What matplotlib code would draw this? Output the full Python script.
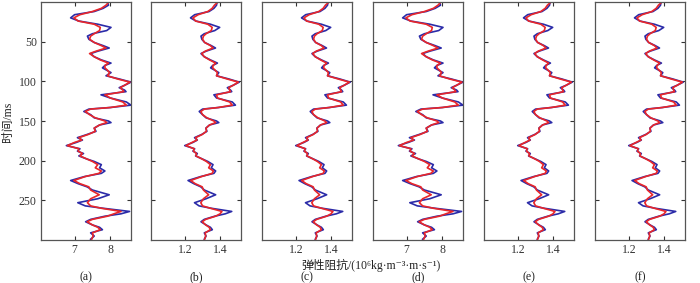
import numpy as np
import matplotlib.pyplot as plt

plt.rcParams['font.family'] = ['Liberation Serif', 'Noto Sans CJK SC', 'DejaVu Serif']
plt.rcParams['axes.unicode_minus'] = False

# time samples (ms)
t = [0, 4, 8, 12, 16, 20, 24, 28, 32, 36, 40, 43, 47, 51, 55, 58, 62, 65, 69, 73,
     77, 80, 83, 86, 89, 93, 97, 101, 105, 108, 111, 113, 117, 121, 126, 130, 133, 135, 138, 142,
     146, 150, 152, 155, 159, 163, 167, 171, 174, 177, 181, 185, 188, 191, 194, 198, 201, 205, 209, 213,
     216, 220, 225, 229, 233, 237, 243, 248, 253, 257, 260, 264, 267, 270, 274, 277, 281, 284, 287, 291,
     295, 299]

# panels (a),(d): well log (blue) and inversion (red)
ip_log = [7.92, 7.95, 7.80, 7.55, 7.00, 6.89, 7.12, 7.65, 8.02, 7.90, 7.50, 7.36, 7.40, 7.55, 7.80, 7.97, 7.65, 7.45, 7.55, 7.75,
          8.02, 7.85, 7.78, 7.90, 8.02, 7.88, 8.25, 8.58, 8.40, 8.25, 8.40, 8.44, 7.74, 8.00, 8.45, 8.58, 8.00, 7.40, 7.26, 7.45,
          7.55, 7.95, 8.02, 7.70, 7.55, 7.60, 7.35, 7.08, 7.22, 7.05, 6.77, 7.15, 7.08, 7.25, 7.12, 7.35, 7.55, 7.75, 7.70, 7.85,
          7.75, 7.28, 6.89, 7.10, 7.35, 7.50, 7.97, 7.65, 7.09, 7.30, 7.80, 8.54, 8.30, 7.85, 7.45, 7.31, 7.50, 7.70, 7.78, 7.45,
          7.55, 7.45]
ip_inv = [7.96, 7.88, 7.75, 7.50, 7.15, 6.98, 7.10, 7.55, 7.72, 7.70, 7.55, 7.45, 7.42, 7.55, 7.75, 7.88, 7.60, 7.42, 7.55, 7.72,
          7.95, 7.85, 7.85, 7.92, 7.98, 7.92, 8.20, 8.55, 8.40, 8.28, 8.35, 8.38, 7.85, 8.00, 8.35, 8.45, 8.00, 7.45, 7.30, 7.42,
          7.58, 7.85, 7.90, 7.70, 7.55, 7.58, 7.38, 7.12, 7.20, 7.00, 6.80, 7.12, 7.10, 7.22, 7.15, 7.35, 7.50, 7.65, 7.58, 7.75,
          7.68, 7.30, 6.98, 7.15, 7.40, 7.45, 7.69, 7.45, 7.36, 7.45, 7.75, 8.30, 8.10, 7.92, 7.50, 7.35, 7.50, 7.65, 7.72, 7.50,
          7.52, 7.48]

# panels (b),(c),(e),(f)
ie_log = [1.383, 1.380, 1.365, 1.337, 1.255, 1.231, 1.262, 1.345, 1.398, 1.370, 1.310, 1.291, 1.296, 1.312, 1.350, 1.374, 1.320, 1.291, 1.310, 1.345,
          1.385, 1.358, 1.346, 1.370, 1.393, 1.380, 1.450, 1.510, 1.475, 1.442, 1.460, 1.467, 1.365, 1.380, 1.470, 1.488, 1.390, 1.300, 1.281, 1.300,
          1.320, 1.380, 1.393, 1.340, 1.319, 1.325, 1.295, 1.254, 1.270, 1.245, 1.198, 1.255, 1.245, 1.270, 1.260, 1.300, 1.330, 1.360, 1.350, 1.375,
          1.365, 1.290, 1.217, 1.250, 1.290, 1.310, 1.375, 1.320, 1.254, 1.280, 1.350, 1.467, 1.430, 1.370, 1.310, 1.291, 1.320, 1.345, 1.356, 1.310,
          1.320, 1.310]
ie_inv = [1.388, 1.368, 1.355, 1.330, 1.275, 1.245, 1.260, 1.330, 1.355, 1.350, 1.320, 1.305, 1.300, 1.312, 1.345, 1.360, 1.315, 1.295, 1.310, 1.340,
          1.375, 1.360, 1.358, 1.372, 1.385, 1.380, 1.440, 1.505, 1.475, 1.450, 1.455, 1.460, 1.380, 1.385, 1.455, 1.470, 1.390, 1.310, 1.290, 1.300,
          1.325, 1.365, 1.375, 1.340, 1.320, 1.322, 1.298, 1.260, 1.268, 1.240, 1.205, 1.252, 1.248, 1.265, 1.262, 1.298, 1.322, 1.345, 1.335, 1.362,
          1.355, 1.295, 1.232, 1.258, 1.298, 1.305, 1.335, 1.305, 1.290, 1.300, 1.345, 1.411, 1.400, 1.375, 1.318, 1.298, 1.318, 1.338, 1.345, 1.315,
          1.318, 1.312]

labels = ['(a)', '(b)', '(c)', '(d)', '(e)', '(f)']
series = [(ip_log, ip_inv), (ie_log, ie_inv), (ie_log, ie_inv),
          (ip_log, ip_inv), (ie_log, ie_inv), (ie_log, ie_inv)]
xlims = [(6.06, 8.58), (1.005, 1.52), (1.005, 1.52),
         (6.06, 8.58), (1.005, 1.52), (1.005, 1.52)]
xticks = [[7, 8], [1.2, 1.4], [1.2, 1.4], [7, 8], [1.2, 1.4], [1.2, 1.4]]

W, H = 700, 283
fig = plt.figure(figsize=(7, 2.83), dpi=100)
lefts = [41, 151, 262, 373, 484, 595]

for i in range(6):
    ax = fig.add_axes([lefts[i] / W, 43 / H, 90 / W, 238 / H])
    log, inv = series[i]
    ax.plot(log, t, color='#2b2ba8', lw=1.2)
    ax.plot(inv, t, color='#e8262a', lw=1.2)
    ax.set_xlim(*xlims[i])
    ax.set_ylim(300, 0)
    ax.set_xticks(xticks[i])
    ax.set_xticklabels([str(v) for v in xticks[i]])
    ax.set_yticks([50, 100, 150, 200, 250])
    if i > 0:
        ax.set_yticklabels([])
    ax.tick_params(direction='in', length=3, width=0.8, top=True, right=True,
                   labelsize=8.5, colors='#333333', pad=3)
    for s in ax.spines.values():
        s.set_color('#555555')
        s.set_linewidth(0.9)
    fig.text((lefts[i] + 45) / W, 1 - 277 / H, labels[i], ha='center', va='center',
             fontsize=8.5, color='#222222')

fig.text(8 / W, 1 - 122 / H, '时间/ms', rotation=90, ha='center', va='center',
         fontsize=8.5, color='#222222')
fig.text(371 / W, 1 - 265 / H, '弹性阻抗/(10⁶kg·m⁻³·m·s⁻¹)', ha='center', va='center',
         fontsize=8.5, color='#222222')

fig.savefig('out.png', dpi=100)
